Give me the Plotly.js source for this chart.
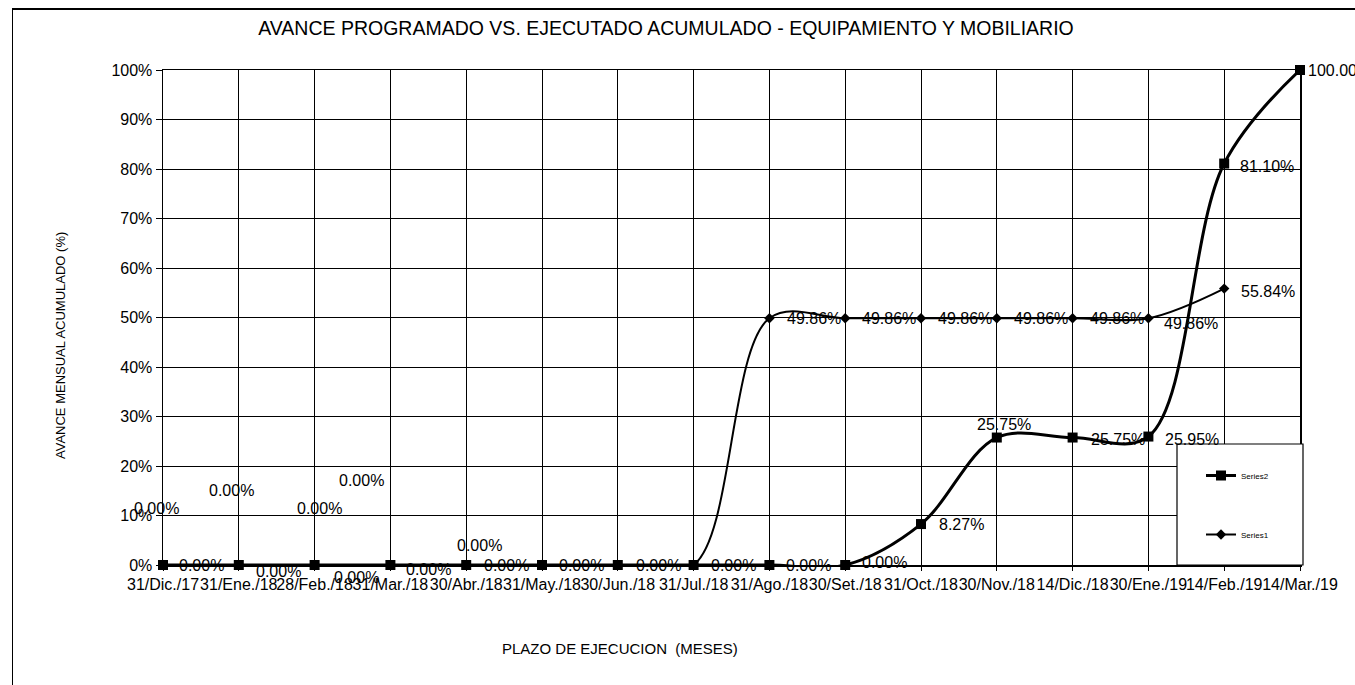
<!DOCTYPE html>
<html><head><meta charset="utf-8">
<script src="https://cdn.plot.ly/plotly-3.0.1.min.js"></script>
<style>
html,body{margin:0;padding:0;background:#fff;overflow:hidden;}
#wrap{position:relative;width:1355px;height:685px;}
#chart{width:1355px;height:685px;}
#frame{position:absolute;left:12px;top:8px;width:1350px;height:690px;border-top:2px solid #000;border-left:1.5px solid #000;pointer-events:none;box-sizing:border-box;}
</style>
</head><body><div id="wrap"><div id="chart"></div><div id="frame"></div></div>
<script>
// ---- data ----
const categories = ["31/Dic./17","31/Ene./18","28/Feb./18","31/Mar./18","30/Abr./18","31/May./18","30/Jun./18","31/Jul./18","31/Ago./18","30/Set./18","31/Oct./18","30/Nov./18","14/Dic./18","30/Ene./19","14/Feb./19","14/Mar./19"];
const series1Values = [0,0,0,0,0,0,0,0,49.86,49.86,49.86,49.86,49.86,49.86,55.84];
const series2Values = [0,0,0,0,0,0,0,0,0,0,8.27,25.75,25.75,25.95,81.10,100.00];
const yTickValues = [0,10,20,30,40,50,60,70,80,90,100];
const yTickLabels = ["0%","10%","20%","30%","40%","50%","60%","70%","80%","90%","100%"];
const seriesNames = ["Series1","Series2"];
const chartTitle = "AVANCE PROGRAMADO VS. EJECUTADO ACUMULADO - EQUIPAMIENTO Y MOBILIARIO";
const yTitle = "AVANCE MENSUAL ACUMULADO (%)";
const xTitle = "PLAZO DE EJECUCION  (MESES)";

// ---- label placement (style: pixel offsets from each point) ----
const s2LabelPos = [[14,0,'left'],[15,-6,'left'],[17,-12,'left'],[14,-4,'left'],[16,0,'left'],[15,0,'left'],[16,0,'left'],[15,0,'left'],[15,0,'left'],[15,3,'left'],[16,0,'left'],[7,13,'center'],[16,-2,'left'],[15,-3,'left'],[14,-3,'left'],[6,0,'left']];
const s1LabelPos = [[-7,57,'center'],[-7,75,'center'],[5,57,'center'],[-29,85,'center'],[13,20,'center'],null,null,null,[16,0,'left'],[15,0,'left'],[15,0,'left'],[15,0,'left'],[15,0,'left'],[14,-5,'left'],[15,-3,'left']];

const FONT = 'Liberation Sans, Arial, sans-serif';
const idx = categories.map((c,i)=>i);
const fmt = v => v.toFixed(2) + '%';

function labels(values, pos){
  const out = [];
  values.forEach((v,i)=>{
    const p = pos[i];
    if(!p) return;
    out.push({x:i, y:v, xref:'x', yref:'y', text:fmt(v), showarrow:false,
      xanchor:p[2], yanchor:'middle', xshift:p[0], yshift:p[1],
      font:{family:FONT, size:16, color:'#000'}});
  });
  return out;
}

const traces = [
  {x: idx.slice(0, series2Values.length), y: series2Values, name: seriesNames[1], type:'scatter', mode:'lines+markers',
   line:{color:'#000', width:3, shape:'spline', smoothing:1},
   marker:{symbol:'square', size:10, color:'#000'}, cliponaxis:false, legendrank:1, legendgroup:'b', hoverinfo:'skip'},
  {x: idx.slice(0, series1Values.length), y: series1Values, name: seriesNames[0], type:'scatter', mode:'lines+markers',
   line:{color:'#000', width:2, shape:'spline', smoothing:1},
   marker:{symbol:'diamond', size:8, color:'#000'}, cliponaxis:false, legendrank:2, legendgroup:'a', hoverinfo:'skip'}
];

const L = 163, W = 1137, T = 70, H = 495;
const px = X => (X - L)/W;
const py = Y => (T + H - Y)/H;

const layout = {
  width:1355, height:685,
  margin:{l:L, r:1355-L-W, t:T, b:685-T-H},
  paper_bgcolor:'#fff', plot_bgcolor:'#fff',
  font:{family:FONT, color:'#000'},
  title:{text:chartTitle, x:666/1355, xref:'container', xanchor:'center', y:1-28/685, yanchor:'middle', font:{family:FONT, size:19.5, color:'#000'}},
  xaxis:{range:[0, categories.length-1], tickmode:'array', tickvals:idx, ticktext:categories, tickangle:0,
    showgrid:true, gridcolor:'#000', gridwidth:1, zeroline:false,
    showline:true, linecolor:'#000', linewidth:1.5, mirror:true,
    ticks:'outside', ticklen:4, tickcolor:'#000', tickfont:{family:FONT, size:16, color:'#000'}, fixedrange:true},
  yaxis:{range:[0,100], tickmode:'array', tickvals:yTickValues, ticktext:yTickLabels,
    showgrid:true, gridcolor:'#000', gridwidth:1, zeroline:false,
    showline:true, linecolor:'#000', linewidth:1.5, mirror:true,
    ticks:'outside', ticklen:6, tickcolor:'#000', tickfont:{family:FONT, size:16, color:'#000'}, fixedrange:true},
  showlegend:true,
  legend:{x:px(1201), y:py(461), xanchor:'left', yanchor:'top', bgcolor:'rgba(0,0,0,0)', borderwidth:0,
    traceorder:'grouped', tracegroupgap:40, font:{family:FONT, size:8, color:'#000'}},
  shapes:[
    {type:'rect', xref:'paper', yref:'paper', x0:px(1177), x1:px(1303), y0:0, y1:py(444), fillcolor:'#fff', line:{color:'#000', width:1.2}, layer:'above'}
  ],
  annotations:[
    {xref:'paper', yref:'paper', x:px(60), y:py(346), text:yTitle, textangle:-90, showarrow:false, xanchor:'center', yanchor:'middle', font:{family:FONT, size:13, color:'#000'}},
    {xref:'paper', yref:'paper', x:px(620), y:py(648), text:xTitle, showarrow:false, xanchor:'center', yanchor:'middle', font:{family:FONT, size:15, color:'#000'}}
  ].concat(labels(series2Values, s2LabelPos), labels(series1Values, s1LabelPos))
};

Plotly.newPlot('chart', traces, layout, {displayModeBar:false, staticPlot:true});
</script>
</body></html>
